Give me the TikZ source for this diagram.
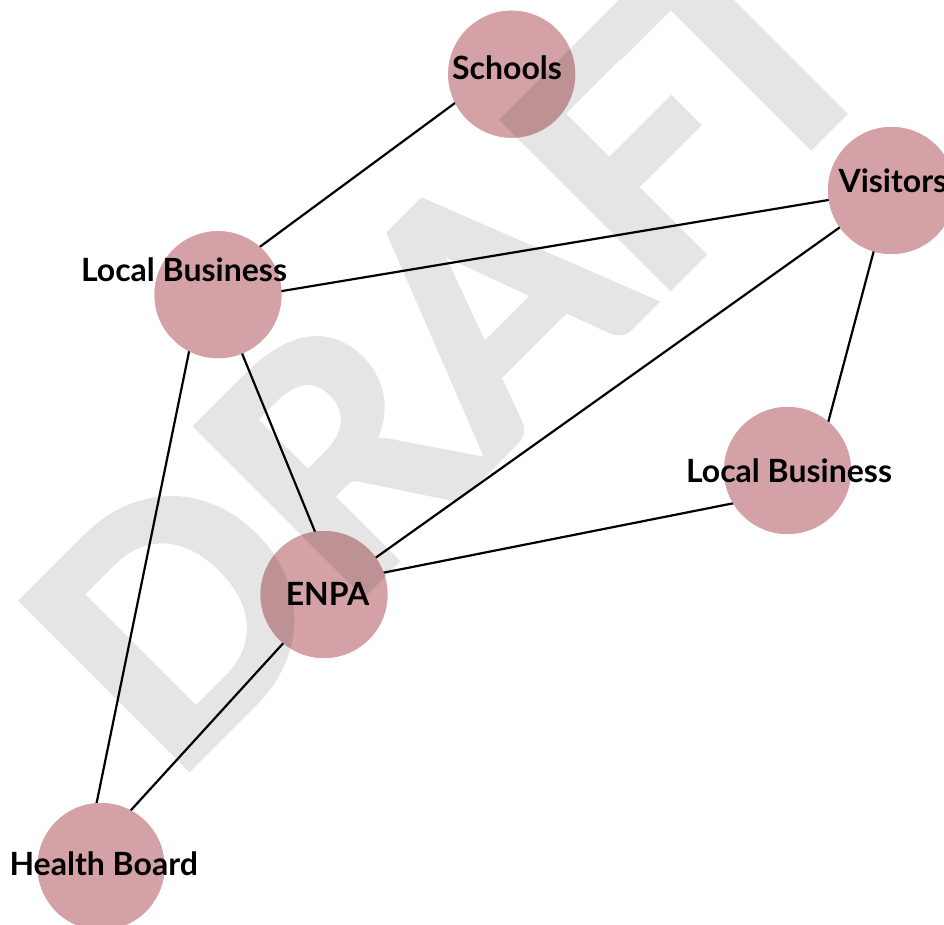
\documentclass[tikz,border=0pt]{standalone}
\usepackage{fontspec}
\setmainfont{Lato}
\newfontfamily\wmfont{Lato}[UprightFeatures={FakeBold=2.5}, BoldFeatures={FakeBold=2.5}]
\definecolor{nodefill}{RGB}{212,162,166}
\begin{document}
\begin{tikzpicture}[x=1pt,y=-1pt,
  actor/.style={circle, fill=nodefill, minimum size=127pt, inner sep=0pt},
  actorlabel/.style={font=\fontsize{32}{38}\selectfont\bfseries, inner sep=0pt, anchor=base},
  link/.style={line width=2.2pt, black},
  watermark/.style={font=\wmfont\fontsize{324}{324}\selectfont\bfseries, text=black,
    rotate=45, anchor=base west, inner sep=0pt}]
\useasboundingbox (0,0) rectangle (944,924);
\clip (0,0) rectangle (944,924);

% stakeholder circles
\node[actor] (schools)  at (511.7,74.2)  {};
\node[actor] (visitors) at (891.5,190.5) {};
\node[actor] (lb1)      at (218,294.7)   {};
\node[actor] (lb2)      at (787.5,470.5) {};
\node[actor] (enpa)     at (324,594.5)   {};
\node[actor] (hb)       at (101,866.5)   {};

% relationships
\draw[link] ([shift={(0,-13)}]schools.center) -- ([shift={(0,-17)}]lb1.center);
\draw[link] ([shift={(0,7)}]lb1.center) -- ([shift={(0,-1)}]visitors.center);
\draw[link] (visitors.center) -- (enpa.center);
\draw[link] ([shift={(-1.6,0)}]visitors.center) -- ([shift={(27.8,0)}]lb2.center);
\draw[link] ([shift={(0,22)}]lb2.center) -- ([shift={(0,-10)}]enpa.center);
\draw[link] (lb1.center) -- ([shift={(16.7,0)}]enpa.center);
\draw[link] ([shift={(-17.3,0)}]lb1.center) -- ([shift={(-17.4,0)}]hb.center);
\draw[link] ([shift={(0,4)}]enpa.center) -- ([shift={(0,-23.5)}]hb.center);

% redraw circles over the connector ends
\foreach \n in {schools, visitors, lb1, lb2, enpa, hb}
  \fill[nodefill] (\n.center) circle[radius=63.5pt];

% watermark, composited as one translucent layer
\begin{scope}[transparency group, opacity=0.1]
  \node[watermark] (draft) at (171,785) {DRAF\kern-34pt T};
\end{scope}

% labels
\node[actorlabel] (schools-label)  at (507,79.3)    {Schools};
\node[actorlabel, anchor=base west] (visitors-label) at (838.3,192.7) {Visitors};
\node[actorlabel] (lb1-label)      at (184,281.7)   {Local Business};
\node[actorlabel] (lb2-label)      at (789,482.7)   {Local Business};
\node[actorlabel] (enpa-label)     at (327.5,605)   {ENPA};
\node[actorlabel] (hb-label)       at (103.7,875)   {Health Board};
\end{tikzpicture}
\end{document}
